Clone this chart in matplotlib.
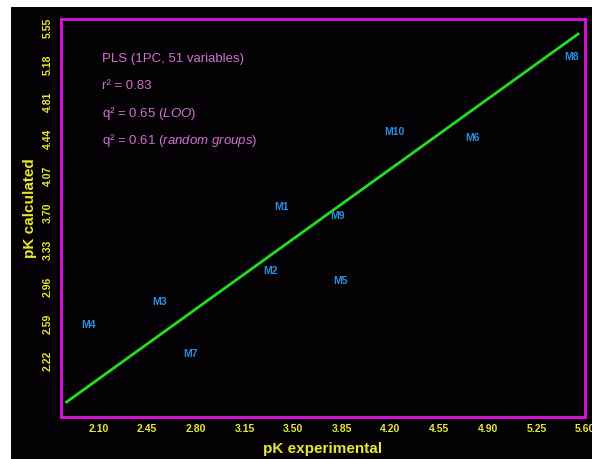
import matplotlib
matplotlib.use("Agg")
import matplotlib.pyplot as plt
from matplotlib.patches import Rectangle

plt.rcParams["font.family"] = ["Liberation Sans", "DejaVu Sans"]
plt.rcParams["mathtext.fontset"] = "custom"
plt.rcParams["mathtext.rm"] = "Liberation Sans"
plt.rcParams["mathtext.it"] = "Liberation Sans:italic"

# compound labels and their positions (pK experimental, pK calculated)
names = ["M1", "M2", "M3", "M4", "M5", "M6", "M7", "M8", "M9", "M10"]
pk_exp = [3.42, 3.34, 2.54, 2.03, 3.84, 4.79, 2.76, 5.50, 3.82, 4.23]
pk_calc = [3.76, 3.12, 2.81, 2.58, 3.02, 4.45, 2.29, 5.26, 3.67, 4.51]

# regression line end points
line_x = [1.87, 5.55]
line_y = [1.81, 5.49]

xticks = [2.10, 2.45, 2.80, 3.15, 3.50, 3.85, 4.20, 4.55, 4.90, 5.25, 5.60]
yticks = [2.22, 2.59, 2.96, 3.33, 3.70, 4.07, 4.44, 4.81, 5.18, 5.55]

stats_lines = ["PLS (1PC, 51 variables)",
	"r² = 0.83",
	r"q² = 0.65 ($\it{LOO}$)",
	r"q² = 0.61 ($\it{random\ groups}$)"]

W, H = 592, 459
fig = plt.figure(figsize=(W/100, H/100), dpi=100)
fig.patch.set_facecolor("white")
fig.patches.append(Rectangle((11/W, 0), 1 - 11/W, 1 - 7/H, transform=fig.transFigure,
	facecolor="#040205", edgecolor="none", zorder=-5))

ax = fig.add_axes([61/W, 1 - 417/H, (585-61)/W, (417-19)/H])
ax.set_facecolor("#040205")
ax.set_xlim(1.83, 5.60)
ax.set_ylim(1.66, 5.64)

ax.plot(line_x, line_y, color="#22dd22", lw=2)
for n, x, y in zip(names, pk_exp, pk_calc):
	ax.text(x, y, n, color="#2a8fe0", fontsize=7.5, fontweight="bold", ha="center", va="center")

for i, s in enumerate(stats_lines):
	ax.text(102/W, 1 - 59/H - i*27/H, s, transform=fig.transFigure, color="#d070d0",
		fontsize=9.5, ha="left", va="center")

for sp in ax.spines.values():
	sp.set_color("#e010e0")
	sp.set_linewidth(2)

ax.set_xticks(xticks)
ax.set_xticklabels(["%.2f" % t for t in xticks])
ax.set_yticks(yticks)
ax.set_yticklabels(["%.2f" % t for t in yticks], rotation=90, va="center")
ax.tick_params(length=0, colors="#e8e830", labelsize=7.5)
ax.tick_params(axis="x", pad=5)
ax.tick_params(axis="y", pad=6)
for lab in ax.get_xticklabels() + ax.get_yticklabels():
	lab.set_fontweight("bold")

ax.set_xlabel("pK experimental", color="#e8e830", fontsize=11, fontweight="bold", labelpad=6)
ax.set_ylabel("pK calculated", color="#e8e830", fontsize=11, fontweight="bold")
ax.yaxis.set_label_coords(-0.046, 0.525)

fig.savefig("out.png", dpi=100, facecolor=fig.get_facecolor())
